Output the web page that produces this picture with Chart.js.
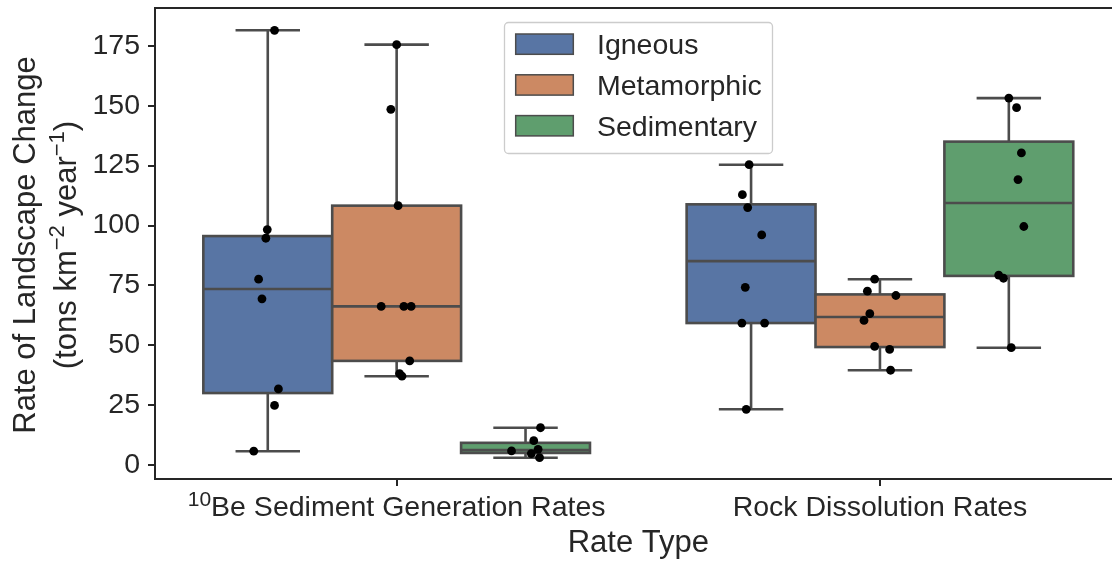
<!DOCTYPE html>
<html>
<head>
<meta charset="utf-8">
<script src="https://cdn.jsdelivr.net/npm/chart.js@4.4.1/dist/chart.umd.min.js"></script>
<style>
  html, body { margin: 0; padding: 0; background: #fff; overflow: hidden; }
  #wrap { width: 1126px; height: 563px; position: relative; }
</style>
</head>
<body>
<div id="wrap"><canvas id="chart"></canvas></div>
<script>
// ===== data =====
const categoryText = ["Be Sediment Generation Rates", "Rock Dissolution Rates"];
const categorySup  = ["10", ""];
const rockTypes = ["Igneous", "Metamorphic", "Sedimentary"];
const rockColors = ["#5875a4", "#cc8963", "#5f9e6e"];
const yTicks = [0, 25, 50, 75, 100, 125, 150, 175];

// values per category: [sediment generation, rock dissolution]
const igneousValues = [
  [181.5, 98.3, 94.7, 77.6, 69.4, 31.8, 24.9, 5.8],
  [125.4, 112.9, 107.5, 96.1, 74.2, 59.3, 59.3, 23.3]
];
const metamorphicValues = [
  [175.5, 148.5, 108.3, 66.25, 66.25, 66.25, 43.5, 38.2, 37.1],
  [77.6, 72.6, 70.8, 63.2, 60.4, 49.6, 48.3, 39.6]
];
const sedimentaryValues = [
  [15.6, 10.2, 5.9, 6.6, 4.8, 3.1],
  [153.2, 149.2, 130.3, 119.2, 99.6, 79.3, 78.0, 49.0]
];
// strip jitter (category units)
const igneousJitter = [
  [0.014, -0.001, -0.004, -0.019, -0.012, 0.022, 0.014, -0.029],
  [-0.004, -0.018, -0.007, 0.022, -0.012, -0.019, 0.028, -0.010]
];
const metamorphicJitter = [
  [0, -0.012, 0.003, -0.032, 0.015, 0.030, 0.027, 0.006, 0.011],
  [-0.011, -0.026, 0.033, -0.021, -0.033, -0.011, 0.020, 0.022]
];
const sedimentaryJitter = [
  [0.031, 0.017, -0.029, 0.026, 0.012, 0.029],
  [0, 0.016, 0.026, 0.019, 0.031, -0.021, -0.011, 0.005]
];

const allValues = [igneousValues, metamorphicValues, sedimentaryValues];
const allJitter = [igneousJitter, metamorphicJitter, sedimentaryJitter];

const FONT = "'Liberation Sans', Arial, sans-serif";
const INK = "#262626";
const BOX_EDGE = "#4c4c4c";
const GROUP_W = 0.8;
const hueW = GROUP_W / rockTypes.length;
const hueOffset = h => -GROUP_W / 2 + hueW * (h + 0.5);

function quantile(sorted, p) {
  const pos = (sorted.length - 1) * p, lo = Math.floor(pos), fr = pos - lo;
  return lo + 1 < sorted.length ? sorted[lo] + fr * (sorted[lo + 1] - sorted[lo]) : sorted[lo];
}
function boxStats(vals) {
  const s = [...vals].sort((a, b) => a - b);
  const q1 = quantile(s, 0.25), med = quantile(s, 0.5), q3 = quantile(s, 0.75);
  const iqr = q3 - q1;
  const lo = s.filter(v => v >= q1 - 1.5 * iqr)[0];
  const hi = s.filter(v => v <= q3 + 1.5 * iqr).slice(-1)[0];
  return { q1, med, q3, lo, hi };
}

const datasets = rockTypes.map((name, h) => ({
  label: name,
  data: allValues[h].flatMap((vals, c) => vals.map((v, i) => ({ x: c + hueOffset(h) + allJitter[h][c][i], y: v }))),
  backgroundColor: "#000",
  borderWidth: 0,
  pointRadius: 4.4,
  pointHoverRadius: 4.4,
  clip: false
}));

// text made of runs, some of them superscripts
function runsWidth(ctx, runs) {
  return runs.reduce((w, r) => { ctx.font = r.size + "px " + FONT; return w + ctx.measureText(r.t).width; }, 0);
}
function drawRuns(ctx, runs, cx, base) {
  let x = cx - runsWidth(ctx, runs) / 2;
  ctx.textAlign = "left"; ctx.textBaseline = "alphabetic";
  runs.forEach(r => {
    ctx.font = r.size + "px " + FONT;
    ctx.fillText(r.t, x, base - (r.rise || 0));
    x += ctx.measureText(r.t).width;
  });
}

const boxPlugin = {
  id: "boxes",
  beforeDatasetsDraw(chart) {
    const { ctx, scales: { x, y } } = chart;
    ctx.save();
    ctx.lineWidth = 2.6;
    ctx.strokeStyle = BOX_EDGE;
    allValues.forEach((byCat, h) => {
      byCat.forEach((vals, c) => {
        const st = boxStats(vals);
        const cxv = c + hueOffset(h);
        const l = x.getPixelForValue(cxv - hueW / 2), r = x.getPixelForValue(cxv + hueW / 2);
        const m = x.getPixelForValue(cxv);
        const capL = x.getPixelForValue(cxv - hueW / 4), capR = x.getPixelForValue(cxv + hueW / 4);
        const yq1 = y.getPixelForValue(st.q1), yq3 = y.getPixelForValue(st.q3);
        const ylo = y.getPixelForValue(st.lo), yhi = y.getPixelForValue(st.hi), ym = y.getPixelForValue(st.med);
        ctx.beginPath();
        ctx.moveTo(m, yq3); ctx.lineTo(m, yhi);
        ctx.moveTo(m, yq1); ctx.lineTo(m, ylo);
        ctx.moveTo(capL, yhi); ctx.lineTo(capR, yhi);
        ctx.moveTo(capL, ylo); ctx.lineTo(capR, ylo);
        ctx.stroke();
        ctx.fillStyle = rockColors[h];
        ctx.fillRect(l, yq3, r - l, yq1 - yq3);
        ctx.strokeRect(l, yq3, r - l, yq1 - yq3);
        ctx.beginPath();
        ctx.moveTo(l, ym); ctx.lineTo(r, ym);
        ctx.stroke();
      });
    });
    ctx.restore();
  },
  afterDraw(chart) {
    const { ctx, chartArea: a, scales: { x } } = chart;
    ctx.save();
    // top + right spines
    ctx.strokeStyle = INK; ctx.lineWidth = 2;
    ctx.beginPath();
    ctx.moveTo(a.left, a.top); ctx.lineTo(a.right, a.top); ctx.lineTo(a.right, a.bottom);
    ctx.stroke();

    ctx.fillStyle = INK;
    // x tick labels
    categoryText.forEach((t, c) => {
      const runs = [];
      if (categorySup[c]) runs.push({ t: categorySup[c], size: 21, rise: 10 });
      runs.push({ t, size: 28.5 });
      drawRuns(ctx, runs, x.getPixelForValue(c), 516);
    });
    // x title
    drawRuns(ctx, [{ t: "Rate Type", size: 31 }], (a.left + a.right) / 2, 552);
    // y title, two lines
    const cy = 245;
    ctx.save();
    ctx.translate(35, cy); ctx.rotate(-Math.PI / 2);
    drawRuns(ctx, [{ t: "Rate of Landscape Change", size: 31 }], 0, 0);
    ctx.restore();
    ctx.save();
    ctx.translate(76, cy); ctx.rotate(-Math.PI / 2);
    drawRuns(ctx, [
      { t: "(tons km", size: 31 },
      { t: "\u22122", size: 22, rise: 12 },
      { t: " year", size: 31 },
      { t: "\u22121", size: 22, rise: 12 },
      { t: ")", size: 31 }
    ], 0, 0);
    ctx.restore();

    // legend
    const lx = 504.5, ly = 22.5, lw = 268, lh = 131;
    ctx.beginPath();
    ctx.roundRect(lx, ly, lw, lh, 4);
    ctx.fillStyle = "rgba(255,255,255,0.8)"; ctx.fill();
    ctx.strokeStyle = "#cccccc"; ctx.lineWidth = 1.3; ctx.stroke();
    rockTypes.forEach((name, h) => {
      const top = 34 + h * 40.8;
      ctx.fillStyle = rockColors[h];
      ctx.fillRect(515.7, top, 57.6, 20.3);
      ctx.strokeStyle = BOX_EDGE; ctx.lineWidth = 1.5;
      ctx.strokeRect(515.7, top, 57.6, 20.3);
      ctx.fillStyle = INK;
      ctx.font = "28.5px " + FONT; ctx.textAlign = "left"; ctx.textBaseline = "alphabetic";
      ctx.fillText(name, 597, top + 20.3);
    });
    ctx.restore();
  }
};

Chart.defaults.font.family = FONT;
Chart.defaults.color = INK;

new Chart(document.getElementById("chart"), {
  type: "scatter",
  data: { datasets },
  options: {
    responsive: true, maintainAspectRatio: false, animation: false,
    layout: { padding: { left: 0, top: 8, right: 4, bottom: 0 } },
    plugins: { legend: { display: false }, tooltip: { enabled: false } },
    scales: {
      x: {
        type: "linear", min: -0.5, max: 1.5,
        afterBuildTicks: s => { s.ticks = categoryText.map((_, i) => ({ value: i })); },
        afterFit: s => { s.height = 84; s.paddingLeft = 0; s.paddingRight = 0; },
        ticks: { display: false },
        grid: { drawOnChartArea: false, drawTicks: true, tickLength: 7, color: INK, lineWidth: 2 },
        border: { display: true, color: INK, width: 2 }
      },
      y: {
        type: "linear", min: -5.8, max: 190.8,
        afterBuildTicks: s => { s.ticks = yTicks.map(v => ({ value: v })); },
        afterFit: s => { s.width = 155; s.paddingTop = 0; s.paddingBottom = 0; },
        ticks: { font: { size: 28.5 }, color: INK, padding: 8 },
        grid: { drawOnChartArea: false, drawTicks: true, tickLength: 7, color: INK, lineWidth: 2 },
        border: { display: true, color: INK, width: 2 }
      }
    }
  },
  plugins: [boxPlugin]
});
</script>
</body>
</html>
